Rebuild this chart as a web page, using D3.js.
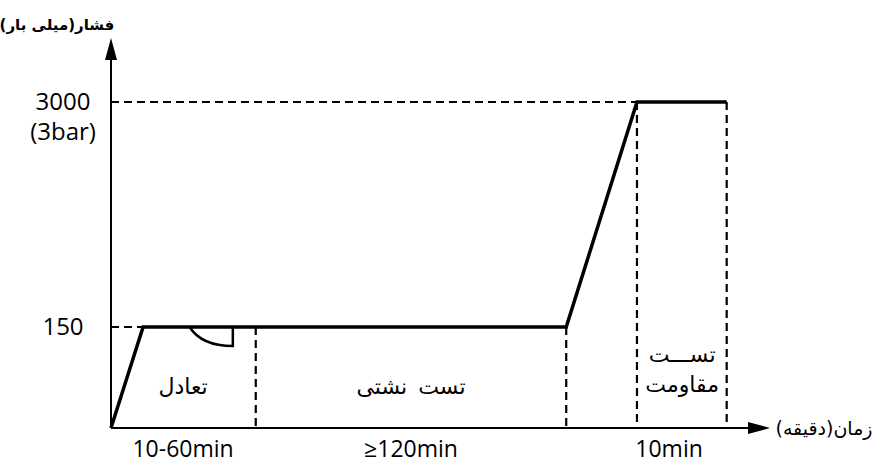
<!DOCTYPE html>
<html><head><meta charset="utf-8">
<script src="https://cdn.jsdelivr.net/npm/d3@7"></script>
<style>body{margin:0;background:#fff}svg{display:block}</style>
</head><body><svg id="c" width="877" height="466"></svg>
<script>
// profile in relative time units (0..100) and pressure (mbar)
const profileTime = [0, 4.9, 69.5, 80.3, 94.0];
const profilePressure = [0, 150, 150, 3000, 3000];
const phaseBounds = [22.1, 69.5, 80.3, 94.0];
const levelValues = [150, 3000];
const levelLabels = [["150"], ["3000", "(3bar)"]];
const phaseNames = [["تعادل"], ["تست نشتی"], ["تســـت", "مقاومت"]];
const phaseCenters = [11, 45.8, 87.2];
const durationLabels = ["10-60min", "≥120min", "10min"];
const durationCenters = [11, 45.8, 85.2];
const yTitle = "فشار(میلی بار)";
const xTitle = "زمان(دقیقه)";

const svg = d3.select("#c");
const x = d3.scaleLinear().domain([0, 100]).range([111, 766]);
const y = d3.scaleLinear().domain([0, 150, 3000]).range([428, 327, 102]);
const latin = "'Open Sans', sans-serif", fa = "'DejaVu Sans', sans-serif";

const g = svg.append("g");
// axes
g.append("line").attr("x1",x(0)).attr("x2",x(0)).attr("y1",y(0)).attr("y2",60).attr("stroke","#000").attr("stroke-width",2);
g.append("path").attr("d",`M${x(0)-6},60 L${x(0)},38 L${x(0)+6},60 Z`).attr("fill","#000");
g.append("line").attr("x1",x(0)).attr("x2",748).attr("y1",y(0)).attr("y2",y(0)).attr("stroke","#000").attr("stroke-width",2);
g.append("path").attr("d",`M748,${y(0)-6} L770,${y(0)} L748,${y(0)+6} Z`).attr("fill","#000");

// dashed level lines
const dash = "8,5";
g.append("line").attr("x1",x(0)).attr("x2",x(profileTime[1])).attr("y1",y(150)).attr("y2",y(150))
  .attr("stroke","#000").attr("stroke-width",2).attr("stroke-dasharray",dash);
g.append("line").attr("x1",x(0)).attr("x2",x(profileTime[3])).attr("y1",y(3000)).attr("y2",y(3000))
  .attr("stroke","#000").attr("stroke-width",2).attr("stroke-dasharray",dash);
// dashed phase bounds
phaseBounds.forEach((t,i)=>{
  const top = (i>=2) ? y(3000) : y(150);
  g.append("line").attr("x1",x(t)).attr("x2",x(t)).attr("y1",top).attr("y2",y(0))
    .attr("stroke","#000").attr("stroke-width",2.2).attr("stroke-dasharray",dash);
});

// profile line
const pts = profileTime.map((t,i)=>[x(t), y(profilePressure[i])]);
g.append("path").attr("d", d3.line()(pts)).attr("fill","none").attr("stroke","#000").attr("stroke-width",3.5).attr("stroke-linejoin","miter");

// notch (arc) in equilibrium phase
const ax0 = x(12), ax1 = x(18.6), ay0 = y(150), ay1 = y(150)+19;
g.append("path").attr("d",`M${ax0},${ay0} Q${ax0+12},${ay1} ${ax1},${ay1} L${ax1},${ay0}`)
  .attr("fill","none").attr("stroke","#000").attr("stroke-width",2.5);

// level labels
levelValues.forEach((v,i)=>{
  levelLabels[i].forEach((s,j)=>{
    g.append("text").attr("x",63).attr("y",y(v)+8+j*30).attr("text-anchor","middle")
      .attr("font-family",latin).attr("font-size",24).text(s);
  });
});

// axis titles
g.append("text").attr("x",57).attr("y",30).attr("text-anchor","middle").attr("font-family",fa)
  .attr("font-weight","bold").attr("font-size",15).text(yTitle);
g.append("text").attr("x",824).attr("y",y(0)+7).attr("text-anchor","middle").attr("font-family",fa)
  .attr("font-size",19).text(xTitle);

// phase names
phaseNames.forEach((lines,i)=>{
  lines.forEach((s,j)=>{
    const yy = lines.length>1 ? 362+j*30 : 394;
    g.append("text").attr("x",x(phaseCenters[i])).attr("y",yy).attr("text-anchor","middle")
      .attr("font-family",fa).attr("font-size",22).attr("word-spacing",4).text(s);
  });
});
// durations
durationLabels.forEach((s,i)=>{
  g.append("text").attr("x",x(durationCenters[i])).attr("y",457).attr("text-anchor","middle")
    .attr("font-family",latin).attr("font-size",23).text(s);
});
</script></body></html>
